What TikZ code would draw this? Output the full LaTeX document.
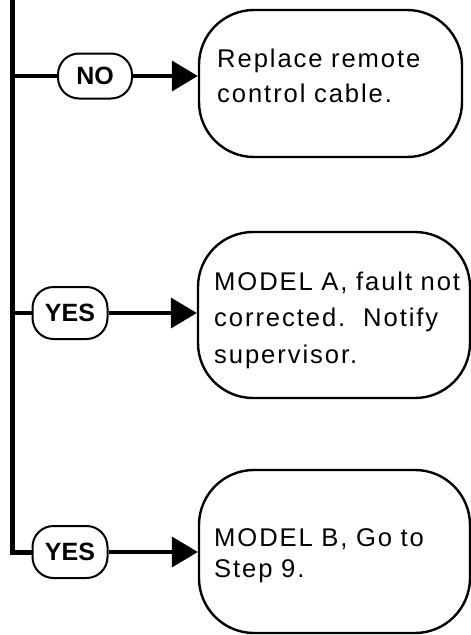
\documentclass[tikz,border=0pt]{standalone}
\usepackage{fontspec}
\setmainfont{Liberation Sans}
\newfontfamily\boxfont[LetterSpace=7.5]{Liberation Sans}
\usetikzlibrary{arrows.meta}
\tikzset{
  pill/.style={draw, line width=2pt, rounded corners=21pt, inner sep=0pt,
    font=\bfseries\fontsize{25}{28}\selectfont},
  stepbox/.style={draw, line width=2.4pt, rounded corners=55pt, inner sep=0pt},
  steptext/.style={anchor=base west, inner sep=0pt, align=left, text width=250pt},
  trunk/.style={line width=5pt},
  branch/.style={line width=4pt},
  arr/.style={line width=4pt, -{Triangle[length=26pt,width=30pt]}},
}
\begin{document}
\begin{tikzpicture}[x=1pt,y=-1pt]
\useasboundingbox (0,0) rectangle (471,635);
\coordinate (top) at (12,-3);
\node[pill, minimum width=74pt, minimum height=45pt] (p1) at (95,76) {NO};
\node[pill, minimum width=75pt, minimum height=52pt] (p2) at (70,313) {YES};
\node[pill, minimum width=75pt, minimum height=52pt] (p3) at (70,552) {YES};
\node[stepbox, minimum width=263pt, minimum height=147pt] (b1) at (330.5,83.5) {};
\node[stepbox, minimum width=272pt, minimum height=166pt] (b2) at (334,315) {};
\node[stepbox, minimum width=271pt, minimum height=163pt] (b3) at (334.5,551.5) {};
\node[steptext, font=\boxfont\fontsize{25.6}{35}\selectfont] (t1) at (217,67)
  {Replace remote\\control cable.};
\node[steptext, font=\boxfont\fontsize{25.6}{36.5}\selectfont] (t2) at (214,290)
  {MODEL A, fault not\\corrected.\hspace{0.7em}Notify\\supervisor.};
\node[steptext, font=\boxfont\fontsize{25.6}{31}\selectfont] (t3) at (214,546)
  {MODEL B, Go to\\Step 9.};
\draw[trunk] (top) |- (p3.west);
\draw[branch] (p1.west) -- (p1.west -| top);
\draw[branch] (p2.west) -- (p2.west -| top);
\draw[arr] (p1.east) -- (b1.west |- p1.east);
\draw[arr] (p2.east) -- (b2.west |- p2.east);
\draw[arr] (p3.east) -- (b3.west |- p3.east);
\end{tikzpicture}
\end{document}
